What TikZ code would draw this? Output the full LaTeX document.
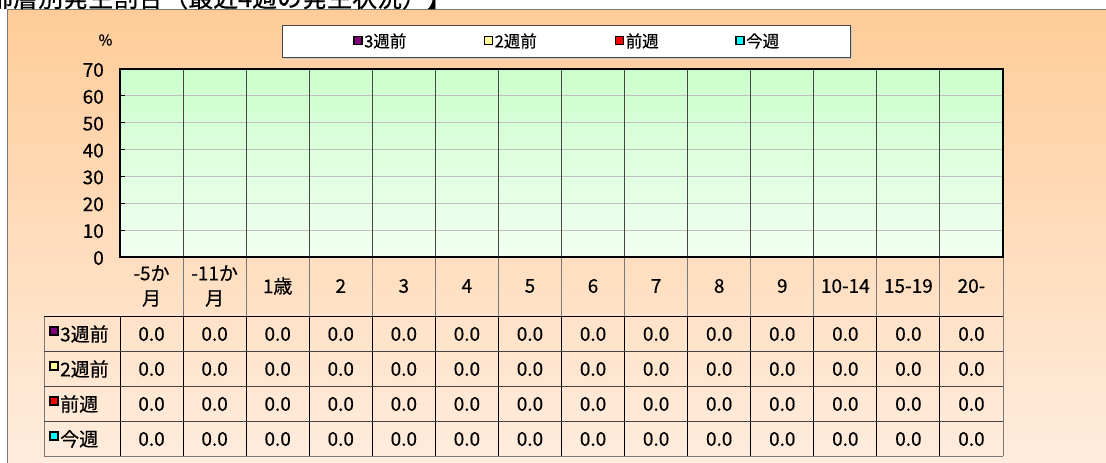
\documentclass[tikz,border=0pt]{standalone}
\usepackage{fontspec}
\setmainfont{Noto Sans CJK JP}[FakeBold=0.5]
\definecolor{bgtop}{RGB}{255,204,153}
\definecolor{bgbot}{RGB}{255,237,223}
\definecolor{pltop}{RGB}{204,255,204}
\definecolor{plbot}{RGB}{242,255,242}
\definecolor{gridgray}{RGB}{192,192,192}
\definecolor{colgray}{RGB}{70,70,70}
\definecolor{framegray}{RGB}{120,120,120}
\definecolor{mpurple}{RGB}{128,0,128}
\definecolor{myellow}{RGB}{255,255,153}
\definecolor{mred}{RGB}{255,0,0}
\definecolor{mcyan}{RGB}{0,255,255}
\tikzset{
  cell/.style={font=\fontsize{19}{21}\selectfont, inner sep=0pt, anchor=center},
  hdr/.style={font=\fontsize{19}{25}\selectfont, inner sep=0pt, anchor=center, align=center},
  ylab/.style={font=\fontsize{19}{21}\selectfont, anchor=east, inner sep=0pt},
  legtxt/.style={font=\fontsize{16.5}{18}\selectfont, anchor=west, inner sep=0pt},
  rowtxt/.style={font=\fontsize{19}{21}\selectfont, anchor=west, inner sep=0pt},
  mkbox/.style={draw=black, line width=1.5pt, minimum size=8pt, inner sep=0pt},
  gridln/.style={draw=gridgray, line width=0.9pt},
  colln/.style={draw=colgray, line width=0.9pt},
  tabln/.style={draw=black, line width=0.9pt},
  tabgray/.style={draw=framegray, line width=0.9pt},
}
\begin{document}
\begin{tikzpicture}[x=1pt,y=-1pt]
\useasboundingbox (0,0) rectangle (1106,463);
\clip (0,0) rectangle (1106,463);
\fill[white] (0,0) rectangle (1106,463);
% chart background
\shade[top color=bgtop, bottom color=bgbot] (7,9) rectangle (1112,470);
\draw[framegray, line width=1pt] (7,470) -- (7,9) -- (1112,9);
% title (clipped at top, as in the reference)
\node[anchor=base west, inner sep=0pt, font=\fontsize{25}{27}\selectfont] (title) at (-37,7) {年齢層別発生割合（最近4週の発生状況）】};
% legend
\fill[gray!45] (284,27) rectangle (852,59);
\node[draw=colgray, line width=1pt, fill=white, minimum width=568pt, minimum height=32pt, inner sep=0pt, anchor=north west] (legend) at (282,25) {};
\node[mkbox, fill=mpurple] (lm1) at (358,40.5) {};
\node[legtxt] (lt1) at (364,41) {3週前};
\node[mkbox, fill=myellow] (lm2) at (488.5,40.5) {};
\node[legtxt] (lt2) at (494.5,41) {2週前};
\node[mkbox, fill=mred] (lm3) at (619.5,40.5) {};
\node[legtxt] (lt3) at (625.5,41) {前週};
\node[mkbox, fill=mcyan] (lm4) at (740,40.5) {};
\node[legtxt] (lt4) at (746,41) {今週};
% plot area
\shade[top color=pltop, bottom color=plbot] (120,69) rectangle (1003,257);
\foreach \k in {1,...,6} {
  \draw[gridln] (120,{257-26.857*\k}) -- (1003,{257-26.857*\k});
}
\foreach \i in {1,...,13} {
  \draw[colln] ({120+63.071*\i},69) -- ({120+63.071*\i},257);
}
\foreach \k in {1,...,6} {
  \draw[black, line width=1pt] (120,{257-26.857*\k}) -- (125,{257-26.857*\k});
}
\draw[black, line width=2.6pt] (120,69) rectangle (1003,257);
% y axis labels
\node[font=\fontsize{15}{17}\selectfont, inner sep=0pt] (pct) at (105.5,40) {\%};
\foreach \k in {0,...,7} {
  \pgfmathtruncatemacro{\v}{10*\k}
  \node[ylab] (y\k) at (104,{258-26.857*\k}) {\v};
}
% table lines
\foreach \i in {1,...,14} {
  \draw[tabgray] ({120+63.071*\i},258) -- ({120+63.071*\i},316);
}
\foreach \i in {0,...,14} {
  \draw[tabln] ({120+63.071*\i},316) -- ({120+63.071*\i},456);
}
\draw[tabgray] (1003,258) -- (1003,456);
\draw[tabgray] (44,316) -- (44,456);
\draw[tabln] (44,316) -- (1003,316);
\foreach \yy in {351,386,421} {
  \draw[draw=colgray, line width=0.9pt] (44,\yy) -- (1003,\yy);
}
\draw[tabgray] (44,456) -- (1003,456);
% headers
\foreach [count=\i from 0] \lab in {{-5か\\月},{-11か\\月},1歳,2,3,4,5,6,7,8,9,10-14,15-19,20-} {
  \node[hdr] (h\i) at ({120+63.071*(\i+0.5)},286) {\lab};
}
% row labels
\node[mkbox, fill=mpurple] (rm1) at (54,331) {};
\node[rowtxt] (r1) at (60,334) {3週前};
\node[mkbox, fill=myellow] (rm2) at (54,366) {};
\node[rowtxt] (r2) at (60,369) {2週前};
\node[mkbox, fill=mred] (rm3) at (54,401) {};
\node[rowtxt] (r3) at (60,404) {前週};
\node[mkbox, fill=mcyan] (rm4) at (54,436) {};
\node[rowtxt] (r4) at (60,439) {今週};
% values
\foreach \r in {0,...,3} {
  \foreach \i in {0,...,13} {
    \node[cell] (v\r-\i) at ({120+63.071*(\i+0.5)},{334+35*\r}) {0.0};
  }
}
\end{tikzpicture}
\end{document}
